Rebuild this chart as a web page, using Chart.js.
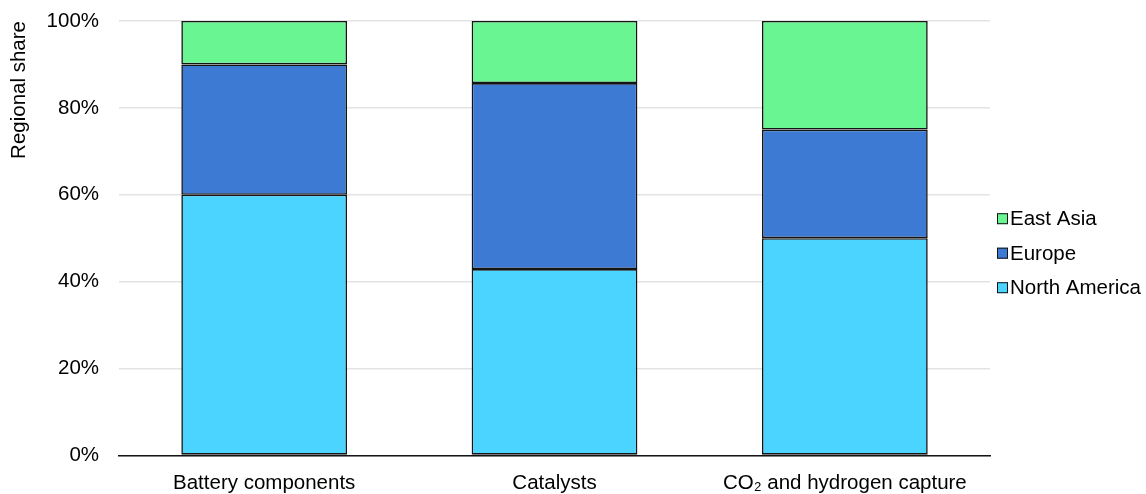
<!DOCTYPE html>
<html>
<head>
<meta charset="utf-8">
<script src="https://cdn.jsdelivr.net/npm/chart.js@4.4.1/dist/chart.umd.min.js"></script>
<style>
  html, body { margin: 0; padding: 0; background: #ffffff; }
  #wrap { width: 1146px; height: 494px; position: relative; }
</style>
</head>
<body>
<div id="wrap"><canvas id="c"></canvas></div>
<script>
// Regional share of activity by technology area (percent)
const categories = ['Battery components', 'Catalysts', 'CO\u2082 and hydrogen capture'];
const northAmerica = [60, 42.9, 50];
const europe = [30, 42.8, 25];
const eastAsia = [10, 14.3, 25];
const yTicks = [0, 20, 40, 60, 80, 100];

const edge = '#141414';
const fontFamily = 'Liberation Sans, Arial, sans-serif';
const font = { family: fontFamily, size: 20.5 };

// Compact legend to the right of the plot, top series listed first
const sideLegend = {
  id: 'sideLegend',
  afterDraw(chart) {
    const { ctx, chartArea } = chart;
    const items = chart.data.datasets.map(d => ({ text: d.label, color: d.backgroundColor })).reverse();
    const gap = 34.5;
    const midY = (chartArea.top + chartArea.bottom) / 2 + 15;
    const boxX = chartArea.right + 7;
    const box = 11;
    ctx.save();
    ctx.font = `${font.size}px ${fontFamily}`;
    ctx.textBaseline = 'middle';
    ctx.textAlign = 'left';
    items.forEach((it, i) => {
      const y = midY + (i - (items.length - 1) / 2) * gap;
      ctx.fillStyle = it.color;
      ctx.fillRect(boxX, y - box / 2, box, box);
      ctx.lineWidth = 1;
      ctx.strokeStyle = edge;
      ctx.strokeRect(boxX + 0.5, y - box / 2 + 0.5, box - 1, box - 1);
      ctx.fillStyle = '#000';
      ctx.fillText(it.text, boxX + 13, y + 1);
    });
    ctx.restore();
  }
};

new Chart(document.getElementById('c'), {
  type: 'bar',
  data: {
    labels: categories,
    datasets: [
      { label: 'North America', data: northAmerica, backgroundColor: '#4AD4FF' },
      { label: 'Europe', data: europe, backgroundColor: '#3D7AD4' },
      { label: 'East Asia', data: eastAsia, backgroundColor: '#6AF593' }
    ].map(d => Object.assign(d, {
      borderColor: edge,
      borderWidth: 1.6,
      borderSkipped: false,
      categoryPercentage: 1,
      barPercentage: 0.571
    }))
  },
  plugins: [sideLegend],
  options: {
    responsive: true,
    maintainAspectRatio: false,
    animation: false,
    layout: { padding: { top: 0, right: 156, bottom: -18, left: 0 } },
    plugins: {
      tooltip: { enabled: false },
      legend: { display: false }
    },
    scales: {
      x: {
        stacked: true,
        grid: { display: false, drawTicks: false },
        border: { display: true, color: edge, width: 1.5 },
        ticks: { font: font, color: '#000', padding: 16, maxRotation: 0 }
      },
      y: {
        stacked: true,
        min: 0,
        max: 100,
        afterBuildTicks(axis) { axis.ticks = yTicks.map(v => ({ value: v })); },
        afterFit(axis) { axis.paddingTop = 21; axis.paddingBottom = 10; },
        grid: { color: '#e3e3e3', lineWidth: 1.5, drawTicks: false },
        border: { display: false },
        ticks: { font: font, color: '#000', padding: 20, callback: v => v + '%' },
        title: { display: true, text: 'Regional share', align: 'end', font: font, color: '#000', padding: { top: 7, bottom: -5 } }
      }
    }
  }
});
</script>
</body>
</html>
